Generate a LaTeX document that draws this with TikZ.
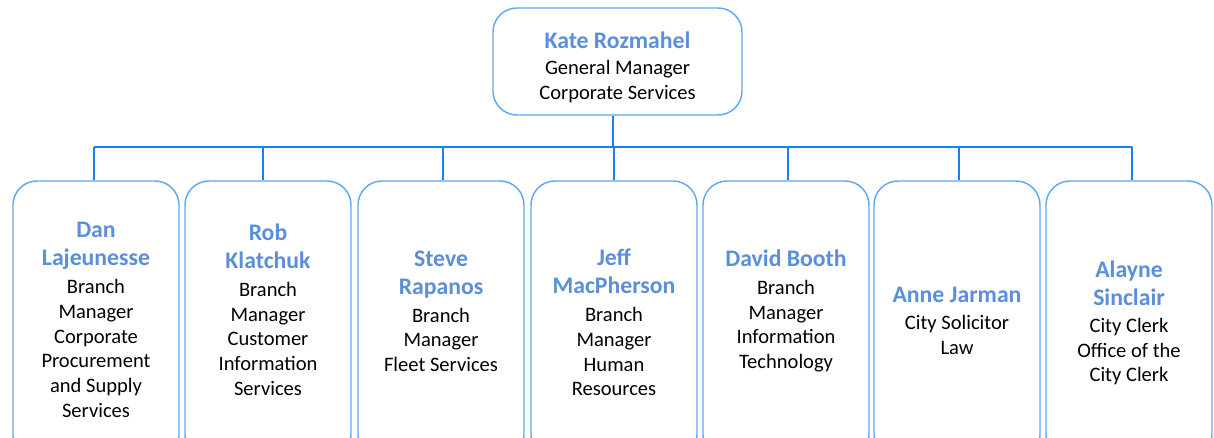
\documentclass[tikz,border=0pt]{standalone}
\usepackage{fontspec}
\setmainfont{Carlito}
\definecolor{namec}{HTML}{5B8EDB}
\definecolor{boxc}{HTML}{5EA8F5}
\definecolor{linec}{HTML}{1A80F0}
\begin{document}
\begin{tikzpicture}[x=0.75pt,y=-0.75pt,
  frame/.style={draw=boxc,line width=1.1pt,rounded corners=18pt,inner sep=0pt,fill=white},
  lowbox/.style={frame,minimum width=166*0.75pt,minimum height=278*0.75pt},
  label/.style={align=center,inner sep=0pt,font=\fontsize{15.4}{18.5}\selectfont},
  conn/.style={draw=linec,line width=1.6pt}]
\useasboundingbox (0,0) rectangle (1214,438);
\clip (0,0) rectangle (1214,438);
\newcommand{\nm}[1]{{\fontsize{17.8}{18.5}\selectfont\bfseries\color{namec}#1}}
\node[frame,minimum width=249*0.75pt,minimum height=107*0.75pt] (top) at (617.5,61.5) {};
\node[label] (t0) at (617.5,67) {\nm{Kate Rozmahel}\\[1.2pt]General Manager\\Corporate Services};
\node[lowbox] (b1) at (96,320) {};
\node[lowbox] (b2) at (268,320) {};
\node[lowbox] (b3) at (441,320) {};
\node[lowbox] (b4) at (614,320) {};
\node[lowbox] (b5) at (786,320) {};
\node[lowbox] (b6) at (957,320) {};
\node[lowbox] (b7) at (1129,320) {};
\node[label] (t1) at (96,320) {\nm{Dan}\\[2.5pt]\nm{Lajeunesse}\\[2.5pt]Branch\\Manager\\Corporate\\Procurement\\and Supply\\Services};
\node[label] (t2) at (268,309.5) {\nm{Rob}\\[2.5pt]\nm{Klatchuk}\\[2.5pt]Branch\\Manager\\Customer\\Information\\Services};
\node[label] (t3) at (441,311) {\nm{Steve}\\[2.5pt]\nm{Rapanos}\\[2.5pt]Branch\\Manager\\Fleet Services};
\node[label] (t4) at (614,322.5) {\nm{Jeff}\\[2.5pt]\nm{MacPherson}\\[2.5pt]Branch\\Manager\\Human\\Resources};
\node[label] (t5) at (786,311) {\nm{David Booth}\\[2.5pt]Branch\\Manager\\Information\\Technology};
\node[label] (t6) at (957,321) {\nm{Anne Jarman}\\[1.5pt]City Solicitor\\Law};
\node[label] (t7) at (1129,323) {\nm{Alayne}\\[2.5pt]\nm{Sinclair}\\[1.5pt]City Clerk\\Office of the\\City Clerk};
\coordinate (bus) at (613,147);
\coordinate (busL) at (94,147);
\coordinate (busR) at (1132,147);
\draw[conn] (top.south -| bus) -- (bus);
\draw[conn] (busL) -- (busR);
\draw[conn] (busL) -- (b1.north -| busL);
\draw[conn] (busR) -- (b7.north -| busR);
\foreach \b/\x in {b2/263,b3/443,b4/614,b5/788,b6/959}{
  \draw[conn] (\x,147) -- (\b.north -| {(\x,0)});
}
\end{tikzpicture}
\end{document}
